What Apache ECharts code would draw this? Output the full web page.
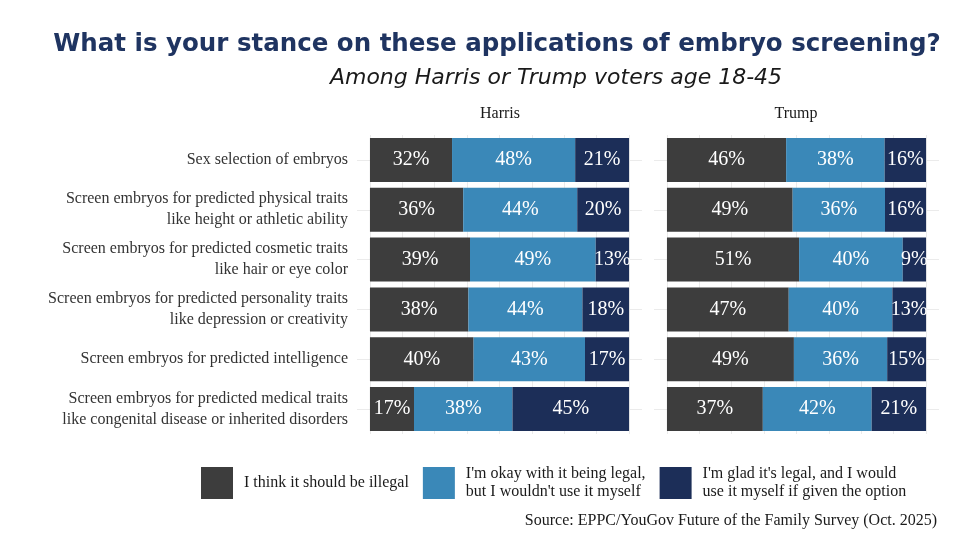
<!DOCTYPE html>
<html>
<head>
<meta charset="utf-8">
<script src="https://cdn.jsdelivr.net/npm/echarts@6/dist/echarts.min.js"></script>
<style>
html,body{margin:0;padding:0;background:#fff;}
#chart{width:978px;height:542px;}
</style>
</head>
<body>
<div id="chart"></div>
<script>
const categories = [
  'Sex selection of embryos',
  'Screen embryos for predicted physical traits\nlike height or athletic ability',
  'Screen embryos for predicted cosmetic traits\nlike hair or eye color',
  'Screen embryos for predicted personality traits\nlike depression or creativity',
  'Screen embryos for predicted intelligence',
  'Screen embryos for predicted medical traits\nlike congenital disease or inherited disorders'
];
const panels = ['Harris', 'Trump'];
const responses = [
  'I think it should be illegal',
  "I'm okay with it being legal,\nbut I wouldn't use it myself",
  "I'm glad it's legal, and I would\nuse it myself if given the option"
];
const harrisIllegal = [32, 36, 39, 38, 40, 17];
const harrisOkay    = [48, 44, 49, 44, 43, 38];
const harrisGlad    = [21, 20, 13, 18, 17, 45];
const trumpIllegal  = [46, 49, 51, 47, 49, 37];
const trumpOkay     = [38, 36, 40, 40, 36, 42];
const trumpGlad     = [16, 16, 9, 13, 15, 21];
const gridTicks = [0, 12.5, 25, 37.5, 50, 62.5, 75, 87.5, 100];

const colors = ['#3d3d3d', '#3a88b8', '#1c2e58'];
const serif = '"Liberation Serif", "DejaVu Serif", serif';

function shares(parts) {
  // position = fill: each row scaled to its total
  return parts.map((arr, k) => arr.map((v, i) => {
    const total = parts.reduce((s, a) => s + a[i], 0);
    return { value: v / total * 100, raw: v };
  }));
}
const panelData = [
  shares([harrisIllegal, harrisOkay, harrisGlad]),
  shares([trumpIllegal, trumpOkay, trumpGlad])
];

const gridLefts = [357, 654];
const grids = gridLefts.map(l => ({ left: l, width: 285, top: 135, height: 299 }));
const xAxes = grids.map((g, i) => ({
  type: 'value', gridIndex: i, min: -5, max: 105,
  axisLabel: { show: false }, axisLine: { show: false }, axisTick: { show: false }, splitLine: { show: false }
}));
const yAxes = grids.map((g, i) => ({
  type: 'category', gridIndex: i, data: categories, inverse: true,
  axisLine: { show: false }, axisTick: { show: false }, splitLine: { show: false },
  axisLabel: {
    show: i === 0, margin: 9, fontFamily: serif, fontSize: 16, color: '#333',
    lineHeight: 21, align: 'right'
  }
}));

const series = [];
panelData.forEach((pd, p) => {
  pd.forEach((data, k) => {
    const s = {
      type: 'bar', name: responses[k], stack: 'p' + p,
      xAxisIndex: p, yAxisIndex: p, barWidth: 44, z: 2,
      itemStyle: { color: colors[k] },
      label: {
        show: true, position: 'inside', color: '#fff', fontFamily: serif, fontSize: 20,
        formatter: prm => prm.data.raw + '%'
      },
      emphasis: { disabled: true },
      data: data
    };
    if (k === 0) {
      s.markLine = {
        silent: true, z: 0, symbol: 'none', animation: false,
        label: { show: false },
        lineStyle: { color: '#ebebeb', type: 'solid', width: 1 },
        data: gridTicks.map(t => ({ xAxis: t })).concat(categories.map(c => ({ yAxis: c })))
      };
    }
    series.push(s);
  });
});

const chart = echarts.init(document.getElementById('chart'));
chart.setOption({
  animation: false,
  backgroundColor: '#fff',
  title: [
    {
      text: 'What is your stance on these applications of embryo screening?',
      left: 492, top: 27, textAlign: 'center',
      textStyle: { fontFamily: '"DejaVu Sans", sans-serif', fontWeight: 'bold', fontSize: 24.5, color: '#1f3461' }
    },
    {
      text: 'Among Harris or Trump voters age 18-45',
      left: 551, top: 62, textAlign: 'center',
      textStyle: { fontFamily: '"DejaVu Sans", sans-serif', fontStyle: 'italic', fontWeight: 'normal', fontSize: 22, color: '#1a1a1a' }
    },
    {
      text: 'Source: EPPC/YouGov Future of the Family Survey (Oct. 2025)',
      right: 36, top: 508,
      textStyle: { fontFamily: serif, fontWeight: 'normal', fontSize: 16, color: '#1a1a1a' }
    }
  ],
  graphic: panels.map((name, i) => ({
    type: 'text', x: [500, 796][i], y: 114,
    style: { text: name, fontFamily: serif, fontSize: 16, fill: '#1a1a1a', textAlign: 'center', textVerticalAlign: 'middle' }
  })),
  legend: {
    left: 196, top: 460, itemWidth: 32, itemHeight: 32, itemGap: 14, icon: 'rect',
    selectedMode: false, data: responses,
    textStyle: { fontFamily: serif, fontSize: 16, color: '#1a1a1a', lineHeight: 18, padding: [0, 0, 0, 6] }
  },
  grid: grids,
  xAxis: xAxes,
  yAxis: yAxes,
  series: series
});
</script>
</body>
</html>
